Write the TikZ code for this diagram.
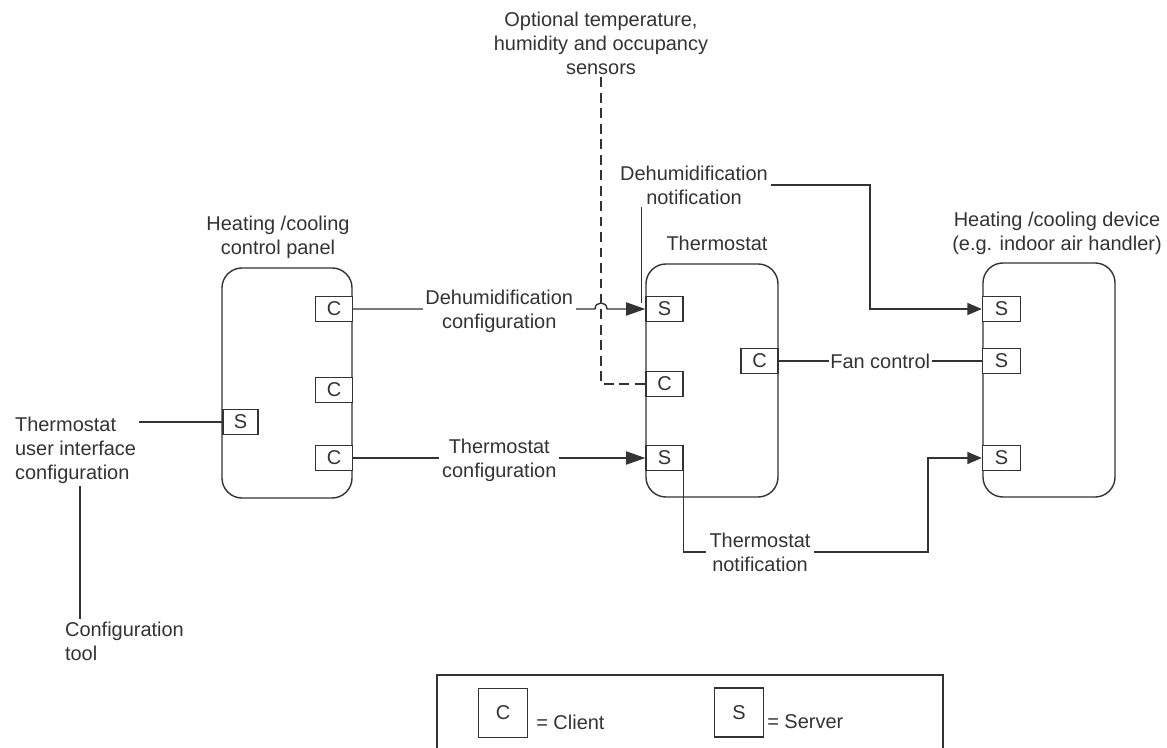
\documentclass[tikz,border=0pt]{standalone}
\usepackage{fontspec}
\setmainfont{Liberation Sans}
\usetikzlibrary{arrows.meta,calc}
\definecolor{ink}{rgb}{0.2,0.2,0.2}
\definecolor{txt}{rgb}{0.2,0.2,0.2}
\begin{document}
\begin{tikzpicture}[x=0.025cm,y=-0.025cm,
  every node/.style={font=\fontsize{14.2}{17.07}\selectfont, text=txt},
  unit/.style={draw=ink, line width=1pt, rounded corners=0.5cm, minimum width=3.3cm, inner sep=0},
  port/.style={draw=ink, line width=1pt, fill=white, minimum width=0.925cm, minimum height=0.625cm, inner sep=0},
  lbl/.style={align=center, inner sep=2pt, fill=white},
  title/.style={align=center, inner sep=2pt},
  leftlbl/.style={anchor=west, align=left, inner sep=2pt},
  wire/.style={draw=ink, line width=1pt},
  sensorline/.style={dash pattern=on 7pt off 4pt},
  arrL/.style={-{Triangle[length=0.48cm,width=0.33cm]}},
  arrS/.style={-{Triangle[length=0.36cm,width=0.3cm]}},
  legbox/.style={draw=ink, line width=1pt, minimum size=1.23cm, inner sep=0}
]
\useasboundingbox (0,0) rectangle (1167,748);

% main units
\node[unit, minimum width=3.25cm, minimum height=5.75cm] (panel) at (287,383) {};
\node[unit, minimum height=5.825cm] (thermo) at (712,380.5) {};
\node[unit, minimum height=5.85cm] (device) at (1049,380) {};

% titles
\node[title] (panelT) at (278,237) {Heating /cooling\\control panel};
\node[title] (thermoT) at (717,243) {Thermostat};
\node[title] (deviceT) at (1057,233) {Heating /cooling device\\(e.g. indoor air handler)};
\node[title] (sensors) at (601,43) {Optional temperature,\\humidity and occupancy\\sensors};

% ports
\node[port] (pC1) at (334,309) {C};
\node[port] (pC2) at (334,390) {C};
\node[port] (pC3) at (334,458) {C};
\node[port, minimum width=0.875cm] (pS) at (240.5,422) {S};
\node[port] (tS1) at (664.5,309) {S};
\node[port] (tC) at (664.5,384) {C};
\node[port] (tS2) at (664.5,458) {S};
\node[port] (tC2) at (759.5,361) {C};
\node[port, minimum width=0.95cm] (dS1) at (1001.5,309) {S};
\node[port, minimum width=0.95cm] (dS2) at (1001.5,361) {S};
\node[port, minimum width=0.95cm] (dS3) at (1001.5,458) {S};

% side labels
\node[leftlbl] (ui) at (12,450) {Thermostat\\user interface\\configuration};
\node[leftlbl] (cfg) at (62,641.5) {Configuration\\tool};
\coordinate (vx) at (80,0);
\draw[wire] (pS.west) -- (ui.east |- pS.west);
\draw[wire] (ui.south -| vx) -- (cfg.north -| vx);

% sensors dashed link
\draw[wire, sensorline] (sensors.south) -- (sensors.south |- tC.west) -- (tC.west);

% dehumidification configuration with hop
\coordinate (hop) at (sensors.south |- tS1.west);
\draw[wire, arrL] (pC1.east) -- ($(hop)+(-6,0)$) .. controls ($(hop)+(-6,-8)$) and ($(hop)+(6,-8)$) .. ($(hop)+(6,0)$) -- (tS1.west);
\node[lbl] (dconf) at ($($(pC1.east)!0.5!(tS1.west)$)+(0,2)$) {Dehumidification\\configuration};

% thermostat configuration
\draw[wire, arrL] (pC3.east) -- (tS2.west);
\node[lbl] (tconf) at ($($(pC3.east)!0.5!(tS2.west)$)+(0,2)$) {Thermostat\\configuration};

% dehumidification notification
\node[title] (dnote) at (694,185) {Dehumidification\\notification};
\coordinate (dnTurn) at (870,0);
\draw[wire] ($(tS1.west)+(-4,-6)$) coordinate (dnA) -- (dnA |- dnote.south);
\draw[wire, arrS] (dnote.east) -| (dnTurn |- dS1.west) -- (dS1.west);

% fan control
\draw[wire] (tC2.east) -- node[lbl, inner sep=1pt] (fan) {Fan control} (dS2.west);

% thermostat notification
\node[title] (tnote) at (760,552) {Thermostat\\notification};
\coordinate (tnTurn) at (928,0);
\draw[wire] (tS2.south east) |- (tnote.west);
\draw[wire, arrS] (tnote.east) -| (tnTurn |- dS3.west) -- (dS3.west);

% legend
\begin{scope}
\clip (0,0) rectangle (1167,748);
\draw[wire] (437,675) rectangle (943,770);
\end{scope}
\node[legbox] (legC) at (503,713) {C};
\node[anchor=west, inner sep=0] (legCt) at (536,722) {= Client};
\node[legbox] (legS) at (739,712.5) {S};
\node[anchor=west, inner sep=0] (legSt) at (767,722) {= Server};
\end{tikzpicture}
\end{document}
